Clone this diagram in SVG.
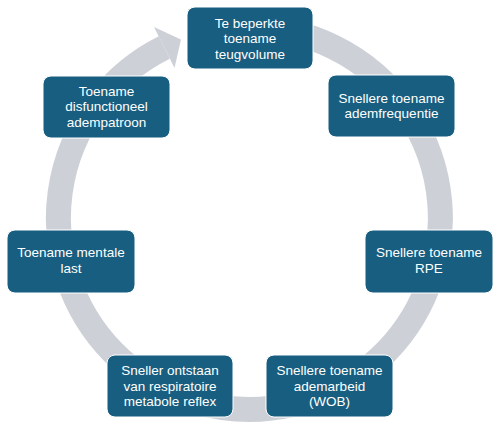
<svg xmlns="http://www.w3.org/2000/svg" width="500" height="425" viewBox="0 0 500 425">
<style>
.box{fill:#175e80;stroke:#ffffff;stroke-width:1}
.t{font-family:"Liberation Sans",Arial,sans-serif;font-size:13.5px;fill:#ffffff;text-anchor:middle}
.ring{fill:none;stroke:#cdd1d7;stroke-width:25}
</style>
<rect width="500" height="425" fill="#ffffff"/>
<g id="connectors">
<path class="ring" d="M 249.5 27.5 A 191 191 0 1 1 164.3 47.5"/>
<polygon points="154,27 181,39.5 174.5,68" fill="#cdd1d7"/>
</g>
<g id="n1"><rect class="box" x="187" y="7" width="126" height="62" rx="8"/>
<text class="t" x="250" y="27.5">Te beperkte</text><text class="t" x="250" y="43">toename</text><text class="t" x="250" y="58.5">teugvolume</text></g>
<g id="n2"><rect class="box" x="328" y="75" width="127" height="62" rx="8"/>
<text class="t" x="391.5" y="102.5">Snellere toename</text><text class="t" x="391.5" y="118">ademfrequentie</text></g>
<g id="n3"><rect class="box" x="365" y="230" width="128" height="63" rx="8"/>
<text class="t" x="429" y="257">Snellere toename</text><text class="t" x="429" y="273">RPE</text></g>
<g id="n4"><rect class="box" x="266" y="355" width="127" height="62" rx="8"/>
<text class="t" x="329.5" y="375">Snellere toename</text><text class="t" x="329.5" y="390.5">ademarbeid</text><text class="t" x="329.5" y="406">(WOB)</text></g>
<g id="n5"><rect class="box" x="107" y="355" width="126" height="62" rx="8"/>
<text class="t" x="170" y="375">Sneller ontstaan</text><text class="t" x="170" y="390.5">van respiratoire</text><text class="t" x="170" y="406">metabole reflex</text></g>
<g id="n6"><rect class="box" x="7" y="230" width="128" height="63" rx="8"/>
<text class="t" x="71" y="257">Toename mentale</text><text class="t" x="71" y="273">last</text></g>
<g id="n7"><rect class="box" x="43" y="76" width="127" height="62" rx="8"/>
<text class="t" x="106.5" y="95.5">Toename</text><text class="t" x="106.5" y="111">disfunctioneel</text><text class="t" x="106.5" y="126.5">adempatroon</text></g>
</svg>
